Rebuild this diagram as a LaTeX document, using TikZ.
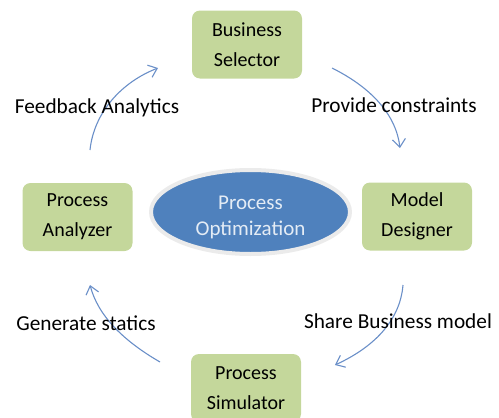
\documentclass[tikz,border=0pt]{standalone}
\usepackage{fontspec}
\setmainfont{Carlito}
\usetikzlibrary{arrows.meta,shapes.geometric}
\definecolor{boxgreen}{HTML}{C4D79B}
\definecolor{ovalblue}{HTML}{4F81BD}
\definecolor{ovalring}{HTML}{EBEBEB}
\definecolor{ovaltext}{HTML}{E4ECF5}
\definecolor{flowblue}{HTML}{6A8FC8}
\tikzset{
  stage/.style={fill=boxgreen, rounded corners=8pt, minimum width=110pt, minimum height=68pt,
    align=center, font=\fontsize{20}{30}\selectfont, inner sep=0pt},
  flow/.style={draw=flowblue, line width=1.1pt, -{Straight Barb[length=8pt,width=13pt,line width=1.1pt]}},
  flowlabel/.style={font=\fontsize{21.3}{24}\selectfont, anchor=center}
}
\begin{document}
\begin{tikzpicture}[x=1pt,y=-1pt]
  \useasboundingbox (0,0) rectangle (499,418);
  % central oval with its caption set a little below centre
  \node (core) [ellipse, fill=ovalblue, draw=ovalring, line width=4pt,
    minimum width=199pt, minimum height=84pt, inner sep=0pt] at (250.5,212) {};
  \node (coretext) [align=center, text=ovaltext, font=\fontsize{21}{26}\selectfont,
    inner sep=0pt] at (250.5,217) {Process\\Optimization};
  % the four stages
  \node (sel) [stage] at (247,44.5) {Business\\Selector};
  \node (des) [stage] at (417,216.5) {Model\\Designer};
  \node (sim) [stage] at (246,388) {Process\\Simulator};
  \node (ana) [stage] at (77.5,217) {Process\\Analyzer};
  % curved arrows between stages
  \coordinate (a1s) at (332,68);   \coordinate (a1e) at (400,148);
  \coordinate (a2s) at (403,285);  \coordinate (a2e) at (335,365);
  \coordinate (a3s) at (160,362);  \coordinate (a3e) at (90,285);
  \coordinate (a4s) at (90,150);   \coordinate (a4e) at (158,68);
  \draw[flow] (a1s) .. controls (372,88) and (396,115) .. (a1e);
  \draw[flow] (a2s) .. controls (400,322) and (372,348) .. (a2e);
  \draw[flow] (a3s) .. controls (122,340) and (98,315) .. (a3e);
  \draw[flow] (a4s) .. controls (94,112) and (122,82) .. (a4e);
  % arrow captions
  \node (l1) [flowlabel] at (394,105) {Provide constraints};
  \node (l2) [flowlabel] at (398,321) {Share Business model};
  \node (l3) [flowlabel] at (86,323) {Generate statics};
  \node (l4) [flowlabel] at (97,108) {Feedback Analytics};
\end{tikzpicture}
\end{document}
